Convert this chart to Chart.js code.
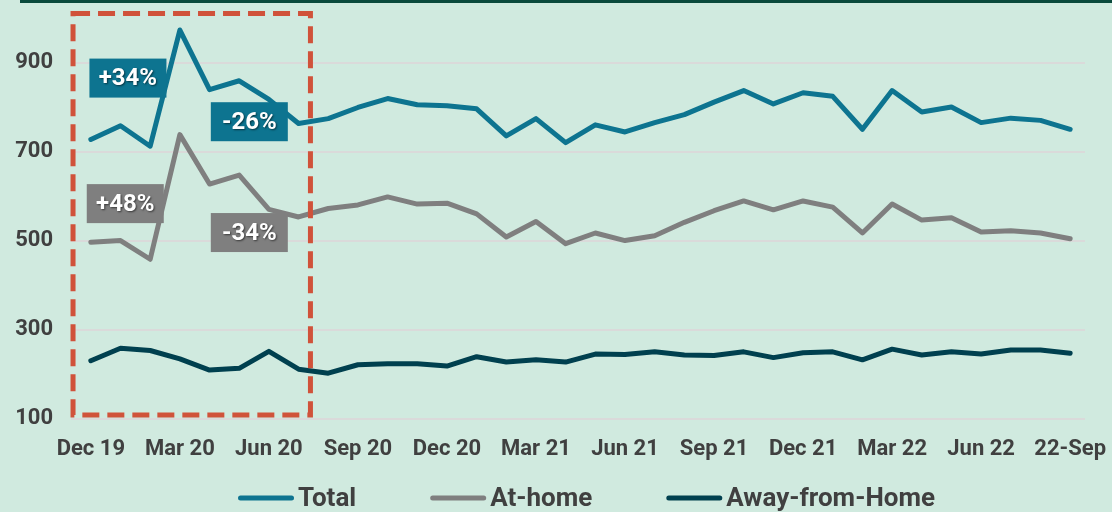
<!DOCTYPE html>
<html>
<head>
<meta charset="utf-8">
<script src="https://cdn.jsdelivr.net/npm/chart.js@4"></script>
<style>
  html, body { margin: 0; padding: 0; background: #d0eadf; }
  #wrap { position: relative; width: 1112px; height: 512px; }
  #topRule { position: absolute; left: 20px; right: 0; top: 0; height: 3px; background: #0a4a3c; }
  canvas { position: absolute; left: 0; top: 0; }
</style>
</head>
<body>
<div id="wrap">
  <div id="topRule"></div>
  <canvas id="salesChart" width="1112" height="512"></canvas>
</div>
<script>
// Monthly categories, Dec 2019 through Sep 2022
const months = ['Dec 19', 'Jan 20', 'Feb 20', 'Mar 20', 'Apr 20', 'May 20', 'Jun 20', 'Jul 20',
  'Aug 20', 'Sep 20', 'Oct 20', 'Nov 20', 'Dec 20', 'Jan 21', 'Feb 21', 'Mar 21', 'Apr 21',
  'May 21', 'Jun 21', 'Jul 21', 'Aug 21', 'Sep 21', 'Oct 21', 'Nov 21', 'Dec 21', 'Jan 22',
  'Feb 22', 'Mar 22', 'Apr 22', 'May 22', 'Jun 22', 'Jul 22', 'Aug 22', '22-Sep'];

const total = [727, 758, 712, 973, 839, 859, 817, 763, 774, 799, 819, 805, 803, 796, 735, 774, 720,
  760, 744, 765, 783, 811, 837, 807, 832, 824, 750, 837, 789, 800, 765, 775, 770, 750];

const atHome = [496, 500, 458, 738, 627, 647, 570, 553, 572, 580, 598, 582, 584, 560, 508, 543, 493,
  517, 500, 511, 541, 567, 589, 569, 589, 575, 517, 582, 546, 551, 519, 522, 517, 504];

const awayFromHome = [230, 258, 253, 234, 209, 213, 251, 211, 202, 221, 223, 223, 218, 239, 227, 232, 227,
  245, 244, 250, 243, 242, 250, 237, 248, 250, 232, 256, 243, 250, 245, 254, 254, 247];

const yTicks = [100, 300, 500, 700, 900];

// Percentage call-outs, placed in data space (category index, value)
const callouts = [
  { text: '+34%', x: 1.25, y: 865, color: '#0d7490' },
  { text: '-26%', x: 5.34, y: 767, color: '#0d7490' },
  { text: '+48%', x: 1.16, y: 583, color: '#7f7f7f' },
  { text: '-34%', x: 5.34, y: 518, color: '#7f7f7f' }
];

// Dashed frame around the early-pandemic months
const highlight = { from: -0.6, to: 7.4, low: 108, high: 1010 };

const textColor = '#404040';

const annotations = {
  id: 'annotations',
  afterDatasetsDraw(chart) {
    const { ctx, scales: { x, y } } = chart;
    ctx.save();

    // dashed highlight box
    ctx.strokeStyle = '#d0523a';
    ctx.lineWidth = 5;
    ctx.setLineDash([17, 8]);
    const x0 = x.getPixelForValue(highlight.from);
    const x1 = x.getPixelForValue(highlight.to);
    const y0 = y.getPixelForValue(highlight.high);
    const y1 = y.getPixelForValue(highlight.low);
    ctx.strokeRect(x0, y0, x1 - x0, y1 - y0);
    ctx.setLineDash([]);

    // label boxes
    ctx.font = 'bold 24px Roboto';
    ctx.textAlign = 'center';
    ctx.textBaseline = 'middle';
    callouts.forEach(c => {
      const cx = x.getPixelForValue(c.x);
      const cy = y.getPixelForValue(c.y);
      const w = 77, h = 39;
      ctx.fillStyle = c.color;
      ctx.fillRect(cx - w / 2, cy - h / 2, w, h);
      ctx.shadowColor = 'rgba(0,0,0,0.55)';
      ctx.shadowOffsetX = 1;
      ctx.shadowOffsetY = 1;
      ctx.shadowBlur = 2;
      ctx.fillStyle = '#ffffff';
      ctx.fillText(c.text, cx, cy + 1);
      ctx.shadowColor = 'transparent';
    });
    ctx.restore();
  }
};

// Legend along the bottom: short thick line sample, then the series name
const bottomLegend = {
  id: 'bottomLegend',
  afterDraw(chart) {
    const { ctx, chartArea } = chart;
    const sample = 56, gap = 4, spacing = 74;
    ctx.save();
    ctx.font = 'bold 26px Roboto';
    ctx.textBaseline = 'middle';
    ctx.textAlign = 'left';
    const items = chart.data.datasets.map(ds => ({
      label: ds.label, color: ds.borderColor, w: ctx.measureText(ds.label).width
    }));
    const full = items.reduce((s, it) => s + sample + gap + it.w, 0) + spacing * (items.length - 1);
    let x = (chartArea.left + chartArea.right) / 2 + 6 - full / 2;
    const y = chart.height - 14;
    items.forEach(it => {
      ctx.strokeStyle = it.color;
      ctx.lineWidth = 5;
      ctx.lineCap = 'round';
      ctx.beginPath();
      ctx.moveTo(x + 2.5, y);
      ctx.lineTo(x + sample - 2.5, y);
      ctx.stroke();
      ctx.fillStyle = textColor;
      ctx.fillText(it.label, x + sample + gap, y + 1);
      x += sample + gap + it.w + spacing;
    });
    ctx.restore();
  }
};

const lineStyle = {
  borderWidth: 5,
  pointRadius: 0,
  borderCapStyle: 'round',
  borderJoinStyle: 'round',
  tension: 0
};

new Chart(document.getElementById('salesChart').getContext('2d'), {
  type: 'line',
  data: {
    labels: months,
    datasets: [
      { label: 'Total', data: total, borderColor: '#0d7490', backgroundColor: '#0d7490', ...lineStyle },
      { label: 'At-home', data: atHome, borderColor: '#7f7f7f', backgroundColor: '#7f7f7f', ...lineStyle },
      { label: 'Away-from-Home', data: awayFromHome, borderColor: '#00404f', backgroundColor: '#00404f', ...lineStyle }
    ]
  },
  options: {
    responsive: false,
    animation: false,
    layout: { padding: { top: 18, right: 27, bottom: 31, left: 0 } },
    plugins: {
      tooltip: { enabled: false },
      legend: { display: false }
    },
    scales: {
      x: {
        offset: true,
        grid: { display: false, drawTicks: false },
        border: { display: false },
        afterFit: scale => { scale.paddingLeft = 0; scale.paddingRight = 0; },
        ticks: {
          autoSkip: false,
          maxRotation: 0,
          padding: 18,
          color: textColor,
          font: { family: 'Roboto', size: 22, weight: 'bold' },
          callback: (val, i) => (i % 3 === 0 ? months[i] : '')
        }
      },
      y: {
        min: 100,
        max: 1000,
        afterBuildTicks: scale => { scale.ticks = yTicks.map(v => ({ value: v })); },
        afterFit: scale => { scale.width = 76; scale.paddingTop = 0; scale.paddingBottom = 0; },
        grid: { color: '#dadada', lineWidth: 2, tickLength: 5 },
        border: { display: false },
        ticks: {
          padding: 18,
          color: textColor,
          font: { family: 'Roboto', size: 22, weight: 'bold' }
        }
      }
    }
  },
  plugins: [annotations, bottomLegend]
});
</script>
</body>
</html>
